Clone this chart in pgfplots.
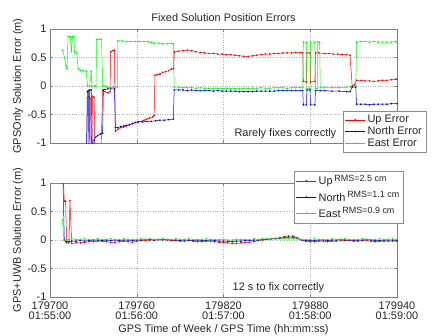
\documentclass[border=0pt]{standalone}
\usepackage{fontspec}
\setmainfont{Liberation Sans}
\usepackage{pgfplots}
\pgfplotsset{compat=1.18}
\newcommand{\fs}{\fontsize{11}{11}\selectfont}
\pgfplotsset{
 mstyle/.style={
  width=347bp, height=114bp, scale only axis,
  xmin=179700, xmax=179940, ymin=-1, ymax=1,
  xtick={179700,179760,179820,179880,179940},
  scaled x ticks=false,
  ytick={-1,-0.5,0,0.5,1}, yticklabels={-1,-0.5,0,0.5,1},
  grid=major, grid style={dotted, black!30, line width=0.5pt},
  tick align=inside, major tick length=3bp,
  axis line style={black!50}, tick style={black!50},
  every tick label/.append style={font=\fs, text=black!85},
  label style={font=\fs, text=black!85},
  title style={font=\fs, text=black!85},
  legend cell align=left,
  legend style={draw=black!45, fill=white, font=\fs, text=black!85, inner sep=2bp, row sep=-1.5bp},
  legend image code/.code={\draw[mark repeat=2,mark phase=2,#1] plot coordinates {(0bp,0bp) (10bp,0bp) (20bp,0bp)};},
  every axis plot/.append style={line width=0.5pt, mark=*, mark size=0.55pt},
  ylabel style={at={(axis description cs:-0.092,0.5)}, anchor=center},
 }
}
\begin{document}
\begin{tikzpicture}[x=1bp,y=1bp]
\useasboundingbox (0,0) rectangle (433,335);
% ---------------- top axis ----------------
\begin{axis}[mstyle, at={(50bp,192bp)}, anchor=south west,
 xticklabels={,,,,},
 title={Fixed Solution Position Errors},
 title style={at={(axis description cs:0.5,1)}, anchor=base, yshift=2bp},
 ylabel={GPSOnly Solution Error (m)},
 legend style={at={(axis description cs:0.844,0.28)}, anchor=north west},
]
\addplot[red] coordinates {
(179709,-1.6) (179725,-1.6) (179726,-0.2) (179727,-0.19) (179728,-0.22) (179728.5,-1.3) (179729.5,-0.18) (179730.5,-0.2) (179731,-1.3) (179735,-1.3)
(179736.5,-0.08) (179738,-0.1) (179740,-0.12) (179741.5,-0.1) (179742,0.6) (179743.5,0.62) (179744.5,0.63)
(179745.2,-0.79) (179747,-0.76) (179749,-0.73) (179751,-0.72) (179753,-0.7) (179755,-0.68) (179757,-0.66) (179759,-0.64) (179761,-0.63) (179763,-0.62) (179765,-0.6) (179767,-0.58) (179769,-0.56) (179771,-0.54) (179772,-0.52)
(179772.6,0.19) (179774,0.2) (179776,0.21) (179778,0.24) (179780,0.25) (179782,0.27) (179784,0.3) (179785.5,0.3)
(179786,0.60) (179789,0.61) (179792,0.62) (179795,0.63) (179798,0.62) (179801,0.60) (179804,0.59) (179807,0.58) (179810,0.57) (179813,0.57) (179816,0.56) (179819,0.56) (179822,0.55) (179825,0.55) (179828,0.54) (179831,0.53) (179834,0.52) (179837,0.52) (179840,0.53) (179843,0.54) (179846,0.55) (179849,0.56) (179852,0.56) (179855,0.57) (179858,0.57) (179861,0.58) (179864,0.58) (179867,0.58) (179870,0.59) (179873,0.59) (179874.8,0.58)
(179875.2,0.08) (179877.3,0.07) (179877.7,0.58) (179879.8,0.58) (179880.2,0.07) (179883.2,0.08) (179883.6,0.58) (179886,0.58) (179890,0.57) (179893,0.57) (179896,0.56) (179899,0.56) (179902,0.55) (179905,0.55) (179907.5,0.54)
(179909,0.0) (179910.5,0.02) (179912,0.1) (179915,0.1) (179918,0.09) (179921,0.09) (179924,0.08) (179927,0.09) (179930,0.1) (179933,0.1) (179936,0.11) (179939,0.12) (179940,0.12)
};
\addlegendentry{Up Error}
\addplot[blue] coordinates {
(179709,-1.6) (179725,-1.6) (179725.8,-0.1) (179726.5,-0.08) (179727,-1.3) (179727.5,-0.07) (179728.5,-0.07) (179729.5,-1.3) (179730.5,-0.95) (179731.5,-0.9) (179733,-0.87) (179735,-0.84) (179736.4,-0.83)
(179736.9,-0.07) (179738,-0.06) (179740,-0.05) (179742,-0.05) (179744.6,-0.05)
(179745.2,-0.73) (179747,-0.73) (179749,-0.71) (179751,-0.7) (179753,-0.69) (179755,-0.68) (179757,-0.66) (179759,-0.64) (179761,-0.63) (179764,-0.63) (179767,-0.62) (179770,-0.62) (179773,-0.61) (179776,-0.6) (179779,-0.6) (179782,-0.59) (179785.3,-0.58)
(179785.9,-0.07) (179789,-0.07) (179792,-0.07) (179795,-0.08) (179798,-0.07) (179801,-0.08) (179804,-0.08) (179807,-0.08) (179810,-0.08) (179813,-0.09) (179816,-0.08) (179819,-0.09) (179822,-0.09) (179825,-0.09) (179828,-0.09) (179831,-0.1) (179834,-0.1) (179837,-0.1) (179840,-0.1) (179843,-0.09) (179846,-0.09) (179849,-0.09) (179852,-0.09) (179855,-0.09) (179858,-0.08) (179861,-0.08) (179864,-0.08) (179867,-0.08) (179870,-0.08) (179873,-0.08) (179874.8,-0.08)
(179875.2,-0.33) (179877.3,-0.33) (179877.7,-0.07) (179879.8,-0.07) (179880.2,-0.33) (179883.2,-0.33) (179883.6,-0.08) (179887,-0.08) (179890,-0.08) (179895,-0.09) (179900,-0.09) (179905,-0.1) (179907.5,-0.1)
(179909,-0.02) (179911.5,-0.02) (179912,-0.32) (179915,-0.32) (179918,-0.32) (179921,-0.33) (179924,-0.32) (179927,-0.32) (179930,-0.32) (179933,-0.32) (179936,-0.31) (179940,-0.31)
};
\addlegendentry{North Error}
\addplot[green] coordinates {
(179708.8,0.63) (179710,0.5) (179711,0.36) (179711.8,0.31) (179712.5,0.87) (179714,0.87) (179714.8,0.6) (179715.5,0.87) (179716.5,0.87) (179717,0.6) (179718.5,0.58) (179719.5,0.3) (179721,0.27) (179723,0.27) (179725,0.26)
(179726,0.0) (179727.5,0.0) (179728.5,0.26) (179729,0.0) (179731,0.0) (179731.8,0.0) (179732.3,0.82) (179734,0.82) (179735.6,0.82) (179736.5,0.0) (179738,0.0) (179740,-0.02) (179742,-0.03) (179744,-0.02) (179746.5,-0.02)
(179747,0.79) (179750,0.79) (179753,0.78) (179756,0.78) (179759,0.78) (179762,0.78) (179765,0.78) (179768,0.78) (179770,0.77) (179772,0.75) (179775,0.75) (179778,0.74) (179781,0.74) (179784,0.75) (179785.3,0.74)
(179785.9,-0.02) (179789,-0.02) (179792,-0.03) (179795,-0.03) (179798,-0.03) (179801,-0.04) (179804,-0.03) (179807,-0.04) (179810,-0.04) (179813,-0.04) (179816,-0.04) (179819,-0.05) (179822,-0.04) (179825,-0.05) (179828,-0.04) (179831,-0.05) (179834,-0.04) (179837,-0.04) (179840,-0.04) (179843,-0.04) (179846,-0.03) (179849,-0.04) (179852,-0.04) (179855,-0.03) (179858,-0.03) (179861,-0.03) (179864,-0.04) (179867,-0.03) (179870,-0.03) (179873,-0.03) (179874.8,-0.03)
(179875.2,0.77) (179877.3,0.77) (179877.7,-0.04) (179879.8,-0.04) (179880.2,0.77) (179883.2,0.77) (179883.6,-0.04) (179884.8,-0.04) (179885.2,0.77) (179886.5,0.77) (179886.9,-0.03) (179890,-0.03) (179895,-0.03) (179900,-0.03) (179905,-0.02) (179908,-0.02) (179910,0.0) (179911.5,0.02)
(179912,0.77) (179915,0.78) (179918,0.78) (179921,0.77) (179924,0.78) (179927,0.77) (179930,0.77) (179933,0.77) (179936,0.77) (179939,0.78) (179940,0.77)
};
\addlegendentry{East Error}
\node[font=\fs, text=black!85, anchor=east] at (axis description cs:0.835,0.08) {Rarely fixes correctly};
\end{axis}
% ---------------- bottom axis ----------------
\begin{axis}[mstyle, at={(50bp,38bp)}, anchor=south west,
 xticklabels={{179700\\01:55:00},{179760\\01:56:00},{179820\\01:57:00},{179880\\01:58:00},{179940\\01:59:00}},
 xticklabel style={align=center, font=\fontsize{11}{10}\selectfont, yshift=-1bp},
 xlabel={GPS Time of Week / GPS Time (hh:mm:ss)},
 xlabel style={at={(axis description cs:0.5,0)}, anchor=base, yshift=-35.5bp},
 ylabel={GPS+UWB Solution Error (m)},
 legend style={at={(axis description cs:0.703,1.105)}, anchor=north west, row sep=1bp},
]
\addplot[red] coordinates {
(179709.0,1.2) (179709.9,0.68) (179710.8,0.68) (179711.5,-0.05) (179713.1,-0.05) (179713.8,0.69) (179715,-0.06)
(179718,-0.05) (179721,-0.05) (179724,-0.04) (179727,-0.03) (179730,-0.03) (179733,-0.02) (179736,-0.02) (179739,-0.03) (179742,-0.04) (179745,-0.04) (179748,-0.03) (179751,-0.02) (179754,-0.03) (179757,-0.04) (179760,-0.02) (179763,-0.01) (179766,-0.01) (179769,0.0) (179772,0.0) (179775,0.0) (179778,0.01) (179781,0.0) (179784,-0.01) (179787,-0.01) (179790,-0.02) (179793,-0.02) (179796,-0.01) (179799,-0.02) (179802,-0.03) (179805,-0.03) (179808,-0.02) (179811,-0.02) (179814,-0.03) (179817,-0.04) (179820,-0.04) (179823,-0.05) (179826,-0.06) (179829,-0.06) (179832,-0.05) (179835,-0.04) (179838,-0.04) (179841,-0.03) (179844,-0.01) (179847,0.0) (179850,0.01) (179853,0.02) (179856,0.03) (179859,0.04) (179862,0.06) (179865,0.07) (179868,0.07) (179871,0.04) (179874,0.0) (179877,-0.02) (179880,-0.03) (179883,-0.03) (179886,-0.02) (179889,-0.02) (179892,-0.03) (179895,-0.02) (179898,-0.02) (179901,-0.01) (179904,-0.01) (179907,-0.01) (179910,-0.02) (179913,-0.02) (179916,-0.01) (179919,-0.01) (179922,-0.02) (179925,-0.03) (179928,-0.02) (179931,-0.02) (179934,-0.02) (179937,-0.02) (179940,-0.02)
};
\addlegendentry{Up\,\raisebox{0.6ex}{\fontsize{9}{9}\selectfont RMS=2.5 cm}}
\addplot[blue] coordinates {
(179708.8,1.2) (179709.9,0.0) (179711,-0.03) (179713,-0.03) (179715,-0.02) (179718,-0.02) (179721,-0.01) (179724,-0.02) (179727,-0.01) (179730,0.0) (179733,0.0) (179736,-0.01) (179739,0.0) (179742,-0.01) (179745,0.0) (179748,-0.01) (179751,0.0) (179754,0.0) (179757,-0.01) (179760,0.0) (179763,0.0) (179766,0.01) (179769,0.01) (179772,0.0) (179775,0.01) (179778,0.0) (179781,0.01) (179784,0.0) (179787,0.0) (179790,-0.01) (179793,0.0) (179796,0.0) (179799,-0.01) (179802,0.0) (179805,-0.01) (179808,-0.01) (179811,0.0) (179814,-0.01) (179817,-0.02) (179820,-0.02) (179823,-0.02) (179826,-0.03) (179829,-0.02) (179832,-0.02) (179835,-0.01) (179838,-0.01) (179841,0.0) (179844,0.0) (179847,0.01) (179850,0.01) (179853,0.02) (179856,0.02) (179859,0.03) (179862,0.04) (179865,0.05) (179868,0.05) (179871,0.03) (179874,0.0) (179877,-0.01) (179880,-0.01) (179883,-0.01) (179886,0.0) (179889,0.0) (179892,-0.01) (179895,0.0) (179898,0.0) (179901,0.01) (179904,0.0) (179907,0.0) (179910,-0.01) (179913,0.0) (179916,0.0) (179919,0.01) (179922,0.0) (179925,-0.01) (179928,-0.01) (179931,0.0) (179934,0.0) (179937,0.0) (179940,0.0)
};
\addlegendentry{North\,\raisebox{0.6ex}{\fontsize{9}{9}\selectfont RMS=1.1 cm}}
\addplot[green] coordinates {
(179708.6,0.35) (179709.7,0.0) (179711,0.0) (179713,0.01) (179715,0.02) (179718,0.01) (179721,0.01) (179724,0.02) (179727,0.01) (179730,0.01) (179733,0.02) (179736,0.01) (179739,0.01) (179742,0.02) (179745,0.01) (179748,0.01) (179751,0.02) (179754,0.01) (179757,0.01) (179760,0.01) (179763,0.02) (179766,0.01) (179769,0.02) (179772,0.01) (179775,0.01) (179778,0.02) (179781,0.01) (179784,0.01) (179787,0.02) (179790,0.01) (179793,0.01) (179796,0.02) (179799,0.01) (179802,0.01) (179805,0.01) (179808,0.02) (179811,0.01) (179814,0.01) (179817,0.01) (179820,0.01) (179823,0.0) (179826,0.0) (179829,0.01) (179832,0.01) (179835,0.01) (179838,0.01) (179841,0.02) (179844,0.01) (179847,0.02) (179850,0.02) (179853,0.02) (179856,0.02) (179859,0.02) (179862,0.03) (179865,0.03) (179868,0.03) (179871,0.02) (179874,0.01) (179877,0.01) (179880,0.01) (179883,0.02) (179886,0.01) (179889,0.01) (179892,0.01) (179895,0.02) (179898,0.01) (179901,0.01) (179904,0.02) (179907,0.01) (179910,0.01) (179913,0.01) (179916,0.02) (179919,0.01) (179922,0.01) (179925,0.01) (179928,0.02) (179931,0.01) (179934,0.01) (179937,0.02) (179940,0.01)
};
\addlegendentry{East\,\raisebox{0.6ex}{\fontsize{9}{9}\selectfont RMS=0.9 cm}}
\node[font=\fs, text=black!85, anchor=east] at (axis description cs:0.80,0.08) {12 s to fix correctly};
\end{axis}
\end{tikzpicture}
\end{document}
